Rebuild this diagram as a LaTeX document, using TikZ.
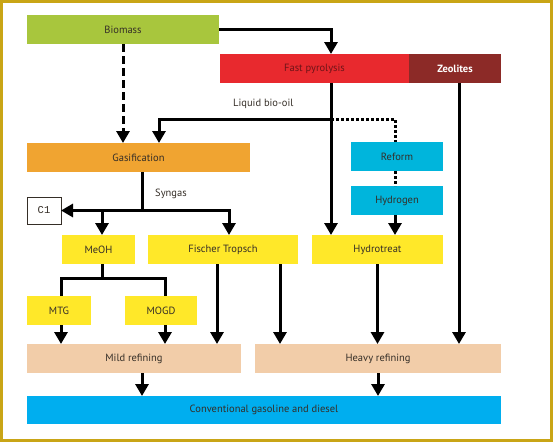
\documentclass[tikz,border=0pt]{standalone}
\usepackage{fontspec}
\setmainfont{PT Sans}
\setmonofont{Liberation Mono}
\usepackage{xcolor}
\usetikzlibrary{positioning,arrows.meta}

\definecolor{framegold}{HTML}{C9A516}
\definecolor{ink}{HTML}{352E27}
\definecolor{biogreen}{HTML}{A8C63D}
\definecolor{pyrored}{HTML}{E8292E}
\definecolor{pyroink}{HTML}{6E1418}
\definecolor{zeored}{HTML}{8C2A27}
\definecolor{gasorange}{HTML}{F0A431}
\definecolor{reformcyan}{HTML}{00B5DC}
\definecolor{procyellow}{HTML}{FFE829}
\definecolor{refpeach}{HTML}{F2CDA9}
\definecolor{fuelblue}{HTML}{00AEEF}

\begin{document}
\begin{tikzpicture}[x=1pt,y=-1pt,
	stage/.style={anchor=north west,minimum height=29pt,inner sep=0pt,outer sep=0pt,
		font=\fontsize{10.5}{12}\selectfont,text=ink},
	flow/.style={line width=3pt,-{Triangle[width=13pt,length=12pt]}},
	link/.style={line width=3pt},
	bioil/.style={line width=3pt,dash pattern=on 3pt off 2pt},
	gasline/.style={flow,dash pattern=on 8pt off 4pt}]
	\useasboundingbox (0,0) rectangle (553,442);
	\draw[framegold,line width=3pt] (1.5,1.5) rectangle (551.5,440.5);

	\node[stage,fill=biogreen,minimum width=192pt] (biomass) at (27,15) {Biomass};
	\node[stage,fill=pyrored,minimum width=189pt,text=pyroink] (pyro) at (220,54) {Fast pyrolysis};
	\node[stage,fill=zeored,minimum width=92pt,text=white,font=\fontsize{10.5}{12}\selectfont\bfseries,right=0pt of pyro] (zeolites) {Zeolites};
	\node[stage,fill=gasorange,minimum width=223pt] (gasif) at (27,143) {Gasification};
	\node[stage,fill=reformcyan,minimum width=92pt] (reform) at (351,142) {Reform};
	\node[stage,fill=reformcyan,minimum width=92pt] (hydrogen) at (351,186) {Hydrogen};
	\node[stage,draw=ink,line width=0.7pt,fill=white,minimum width=34pt,minimum height=27pt,
		font=\ttfamily\fontsize{10.5}{12}\selectfont] (c1) at (27,197) {C1};
	\node[stage,fill=procyellow,minimum width=73pt] (meoh) at (62,235) {MeOH};
	\node[stage,fill=procyellow,minimum width=150pt] (fischer) at (148,235) {Fischer Tropsch};
	\node[stage,fill=procyellow,minimum width=131pt] (hydrotreat) at (312,235) {Hydrotreat};
	\node[stage,fill=procyellow,minimum width=64pt] (mtg) at (27,296) {MTG};
	\node[stage,fill=procyellow,minimum width=72pt] (mogd) at (125,296) {MOGD};
	\node[stage,fill=refpeach,minimum width=214pt] (mild) at (27,344) {Mild refining};
	\node[stage,fill=refpeach,minimum width=246pt] (heavy) at (255,344) {Heavy refining};
	\node[stage,fill=fuelblue,minimum width=474pt,minimum height=28pt] (fuel) at (27,396) {Conventional gasoline and diesel};

	\node[font=\fontsize{10.5}{12}\selectfont,text=ink,anchor=west,inner sep=0pt] (oillabel) at (233,104) {Liquid bio-oil};
	\node[font=\fontsize{10.5}{12}\selectfont,text=ink,anchor=west,inner sep=0pt] (synlabel) at (155,194) {Syngas};

	\coordinate (oil) at (331,119);
	\coordinate (syn) at (142,210.5);
	\coordinate (split) at (102,278);

	% pyrolysis branch
	\draw[flow] (biomass.east) -| ([xshift=16.5pt]pyro.north);
	\draw[flow] (oil) -| ([xshift=20.5pt]gasif.north);
	\draw[bioil] (oil) -| ([xshift=-2pt]reform.north);
	\draw[flow] ([xshift=16.5pt]pyro.south) -- ([xshift=16.5pt]pyro.south |- hydrotreat.north);
	\draw[flow] ([xshift=4pt]zeolites.south) -- ([xshift=4pt]zeolites.south |- heavy.north);
	\draw[bioil] ([xshift=-2pt]reform.south) -- ([xshift=-2pt]hydrogen.north);
	\draw[flow] ([xshift=-2pt]hydrogen.south) -- ([xshift=-2pt]hydrogen.south |- hydrotreat.north);

	% gasification branch
	\draw[gasline] (biomass.south) -- (biomass.south |- gasif.north);
	\draw[link] ([xshift=3.5pt]gasif.south) -- (syn);
	\draw[flow] (syn) -- (c1.east);
	\draw[flow] (syn) -| ([xshift=6pt]fischer.north);
	\draw[flow] (syn -| split) -- (split |- meoh.north);
	\draw[link] (meoh.south -| split) -- (split);
	\draw[link] ([xshift=2.5pt]mtg.north) |- (split) -| ([xshift=4pt]mogd.north);

	% refining
	\draw[flow] ([xshift=2pt]mtg.south) -- ([xshift=2pt]mtg.south |- mild.north);
	\draw[flow] ([xshift=4pt]mogd.south) -- ([xshift=4pt]mogd.south |- mild.north);
	\draw[flow] ([xshift=-6pt]fischer.south) -- ([xshift=-6pt]fischer.south |- mild.north);
	\draw[flow] ([xshift=57pt]fischer.south) -- ([xshift=57pt]fischer.south |- heavy.north);
	\draw[flow] (hydrotreat.south) -- (hydrotreat.south |- heavy.north);
	\draw[flow] ([xshift=8pt]mild.south) -- ([xshift=8pt]mild.south |- fuel.north);
	\draw[flow] (heavy.south) -- (heavy.south |- fuel.north);
\end{tikzpicture}
\end{document}
